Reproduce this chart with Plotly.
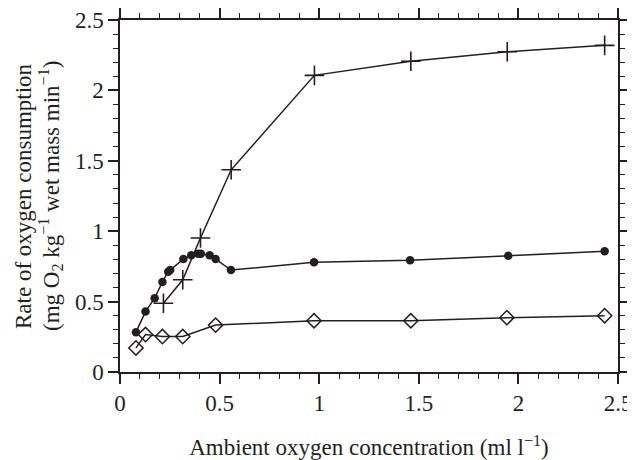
import plotly.graph_objects as go

# Data
cross_x = [0.218, 0.315, 0.404, 0.558, 0.976, 1.46, 1.944, 2.433]
cross_y = [0.488, 0.655, 0.952, 1.436, 2.107, 2.207, 2.274, 2.32]

circle_x = [0.08, 0.128, 0.174, 0.213, 0.242, 0.252, 0.318, 0.358, 0.392, 0.406, 0.45, 0.48, 0.557, 0.974, 1.456, 1.949, 2.433]
circle_y = [0.283, 0.429, 0.524, 0.64, 0.712, 0.724, 0.802, 0.829, 0.84, 0.84, 0.829, 0.802, 0.724, 0.779, 0.793, 0.826, 0.857]

diamond_x = [0.08, 0.128, 0.213, 0.315, 0.48, 0.974, 1.46, 1.942, 2.433]
diamond_y = [0.171, 0.266, 0.252, 0.252, 0.333, 0.364, 0.364, 0.386, 0.4]

x_ticks = [0, 0.5, 1, 1.5, 2, 2.5]
x_ticklabels = ["0", "0.5", "1", "1.5", "2", "2.5"]
y_ticks = [0, 0.5, 1, 1.5, 2, 2.5]
y_ticklabels = ["0", "0.5", "1", "1.5", "2", "2.5"]

x_title = "Ambient oxygen concentration (ml l<sup>−1</sup>)"
y_title_lines = ["Rate of oxygen consumption",
                 "(mg O<sub>2</sub> kg<sup>−1</sup> wet mass min<sup>−1</sup>)"]

FONT = "Liberation Serif, Times New Roman, serif"
INK = "#231f20"

fig = go.Figure()
fig.add_trace(go.Scatter(x=cross_x, y=cross_y, mode="lines+markers",
                         line=dict(color=INK, width=1.5),
                         marker=dict(symbol="cross-thin-open", size=14,
                                     line=dict(color=INK, width=1.6))))
fig.add_trace(go.Scatter(x=circle_x, y=circle_y, mode="lines+markers",
                         line=dict(color=INK, width=1.5),
                         marker=dict(symbol="circle", size=8.5, color=INK)))
fig.add_trace(go.Scatter(x=diamond_x, y=diamond_y, mode="lines+markers",
                         line=dict(color=INK, width=1.5),
                         marker=dict(symbol="diamond-open", size=11,
                                     color=INK, line=dict(color=INK, width=1.5))))

axis_common = dict(showgrid=False, zeroline=False, showline=True,
                   linecolor=INK, linewidth=1.5, mirror="ticks",
                   ticks="outside", ticklen=10, tickwidth=1.5, tickcolor=INK,
                   automargin=False, ticklabelstandoff=0,
                   tickfont=dict(family=FONT, size=23, color=INK))

fig.update_xaxes(range=[0, 2.5], tickvals=x_ticks, ticktext=x_ticklabels,
                 minor=dict(dtick=0.1, ticks="outside", ticklen=5, tickwidth=1.3, tickcolor=INK),
                 title=dict(text=x_title,
                            font=dict(family=FONT, size=23, color=INK), standoff=24),
                 **axis_common)
fig.update_yaxes(range=[0, 2.5], tickvals=y_ticks, ticktext=y_ticklabels,
                 minor=dict(dtick=0.1, ticks="outside", ticklen=5, tickwidth=1.3, tickcolor=INK),
                 **axis_common)

# two-line y title with tighter line spacing
for line_text, shift in zip(y_title_lines, [-97, -70]):
    fig.add_annotation(text=line_text, xref="paper", yref="paper", x=0, y=0.5,
                       xanchor="center", yanchor="middle", textangle=-90,
                       xshift=shift, showarrow=False,
                       font=dict(family=FONT, size=23, color=INK))

# page has an 8px body margin; compensate so the plot box lands where the reference has it
fig.update_layout(width=635, height=460, showlegend=False,
                  plot_bgcolor="white", paper_bgcolor="white",
                  margin=dict(l=112, r=25, t=12, b=96),
                  font=dict(family=FONT, color=INK))

fig.write_html("out.html")
